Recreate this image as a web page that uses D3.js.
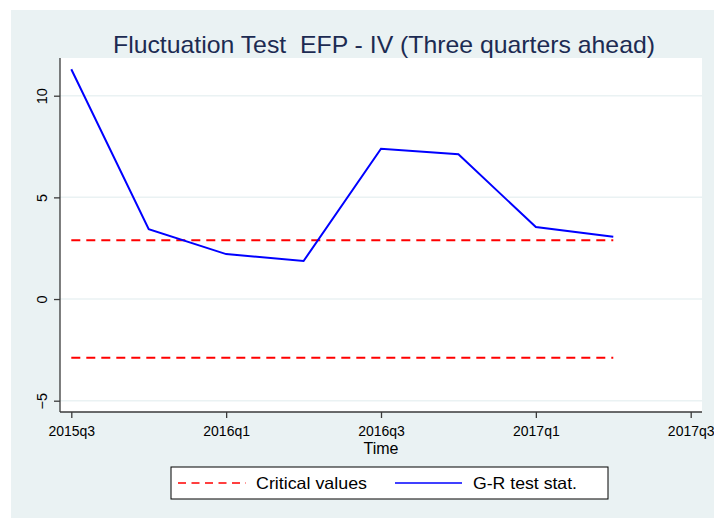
<!DOCTYPE html>
<html>
<head>
<meta charset="utf-8">
<script src="https://cdn.jsdelivr.net/npm/d3@7"></script>
<style>
  body { margin: 0; background: #fff; }
  text { font-family: "Liberation Sans", Arial, sans-serif; }
</style>
</head>
<body>
<svg id="chart"></svg>
<script>
// quarters shown on the x axis (index 0 = 2015q3)
const quarters = ["2015q3", "2015q4", "2016q1", "2016q2", "2016q3", "2016q4", "2017q1", "2017q2"];
const grStat = [11.30, 3.43, 2.21, 1.87, 7.39, 7.12, 3.54, 3.06];
const critUpper = [2.89, 2.89, 2.89, 2.89, 2.89, 2.89, 2.89, 2.89];
const critLower = [-2.89, -2.89, -2.89, -2.89, -2.89, -2.89, -2.89, -2.89];
const xTickLabels = ["2015q3", "2016q1", "2016q3", "2017q1", "2017q3"];
const xTickIndex = [0, 2, 4, 6, 8];
const yTicks = [-5, 0, 5, 10];

const width = 714, height = 518;
const plot = { left: 60, right: 702, top: 58, bottom: 412 };

const svg = d3.select('#chart')
  .attr('width', width)
  .attr('height', height);

// outer graph region (stata style light blue-grey)
svg.append('rect')
  .attr('x', 11).attr('y', 10)
  .attr('width', width - 11).attr('height', height - 10)
  .attr('fill', '#eaf2f3');

svg.append('rect')
  .attr('x', plot.left).attr('y', plot.top)
  .attr('width', plot.right - plot.left).attr('height', plot.bottom - plot.top)
  .attr('fill', '#fff');

const xScale = d3.scaleLinear()
  .domain([0, 8])
  .range([71.3, 690.7]);

const yScale = d3.scaleLinear()
  .domain([-5, 10])
  .range([400.7, 95.7]);

// gridlines
svg.selectAll('.grid')
  .data(yTicks)
  .enter()
  .append('line')
  .attr('x1', plot.left).attr('x2', plot.right)
  .attr('y1', d => yScale(d)).attr('y2', d => yScale(d))
  .attr('stroke', '#eaf2f3')
  .attr('stroke-width', 1.5);

// y axis
const yAxis = svg.append('g')
  .attr('transform', `translate(${plot.left},0)`)
  .call(d3.axisLeft(yScale).tickValues(yTicks).tickSize(6).tickSizeOuter(0).tickFormat(d3.format('d')));
yAxis.select('.domain').attr('d', `M0,${plot.top}V${plot.bottom}`);
yAxis.selectAll('.tick text')
  .attr('transform', 'rotate(-90)')
  .attr('x', 0).attr('y', -13)
  .attr('dy', 0)
  .attr('text-anchor', 'middle')
  .attr('font-size', 14.5)
  .attr('font-family', '"Liberation Sans", Arial, sans-serif')
  .attr('fill', '#000');

// x axis
const xAxis = svg.append('g')
  .attr('transform', `translate(0,${plot.bottom})`)
  .call(d3.axisBottom(xScale).tickValues(xTickIndex).tickSize(6).tickSizeOuter(0)
    .tickFormat((d, i) => xTickLabels[i]));
xAxis.select('.domain').attr('d', `M${plot.left},0H${plot.right}`);
xAxis.selectAll('.tick text')
  .attr('y', 14)
  .attr('dy', '0.71em')
  .attr('font-size', 14)
  .attr('font-family', '"Liberation Sans", Arial, sans-serif')
  .attr('fill', '#000');

[yAxis, xAxis].forEach(ax => {
  ax.select('.domain').attr('stroke', '#3a3a3a').attr('stroke-width', 1.3);
  ax.selectAll('.tick line').attr('stroke', '#3a3a3a').attr('stroke-width', 1.3);
});

// series
const line = d3.line()
  .x((d, i) => xScale(i))
  .y(d => yScale(d));

[critUpper, critLower].forEach(s => {
  svg.append('path')
    .datum(s)
    .attr('d', line)
    .attr('fill', 'none')
    .attr('stroke', '#ff0000')
    .attr('stroke-width', 2)
    .attr('stroke-dasharray', '9,6');
});

svg.append('path')
  .datum(grStat)
  .attr('d', line)
  .attr('fill', 'none')
  .attr('stroke', '#0000ff')
  .attr('stroke-width', 2);

// title
svg.append('text')
  .attr('x', 384)
  .attr('y', 53)
  .attr('text-anchor', 'middle')
  .attr('font-size', 24)
  .attr('textLength', 542)
  .attr('lengthAdjust', 'spacingAndGlyphs')
  .attr('fill', '#1c2b52')
  .text('Fluctuation Test\u00a0\u00a0EFP - IV (Three quarters ahead)');

// x axis title
svg.append('text')
  .attr('x', 381)
  .attr('y', 454)
  .attr('text-anchor', 'middle')
  .attr('font-size', 16)
  .attr('fill', '#000')
  .text('Time');

// legend
const legend = svg.append('g');
legend.append('rect')
  .attr('x', 171).attr('y', 467)
  .attr('width', 437).attr('height', 32)
  .attr('fill', '#fff')
  .attr('stroke', '#000')
  .attr('stroke-width', 1);

legend.append('line')
  .attr('x1', 178).attr('x2', 246)
  .attr('y1', 483).attr('y2', 483)
  .attr('stroke', '#ff0000')
  .attr('stroke-width', 1.3)
  .attr('stroke-dasharray', '8,5.5');
legend.append('text')
  .attr('x', 256).attr('y', 489)
  .attr('font-size', 16.5)
  .attr('textLength', 111)
  .attr('lengthAdjust', 'spacingAndGlyphs')
  .attr('fill', '#000')
  .text('Critical values');

legend.append('line')
  .attr('x1', 395).attr('x2', 462)
  .attr('y1', 483).attr('y2', 483)
  .attr('stroke', '#0000ff')
  .attr('stroke-width', 1.3);
legend.append('text')
  .attr('x', 473).attr('y', 489)
  .attr('font-size', 16.5)
  .attr('textLength', 104)
  .attr('lengthAdjust', 'spacingAndGlyphs')
  .attr('fill', '#000')
  .text('G-R test stat.');
</script>
</body>
</html>
